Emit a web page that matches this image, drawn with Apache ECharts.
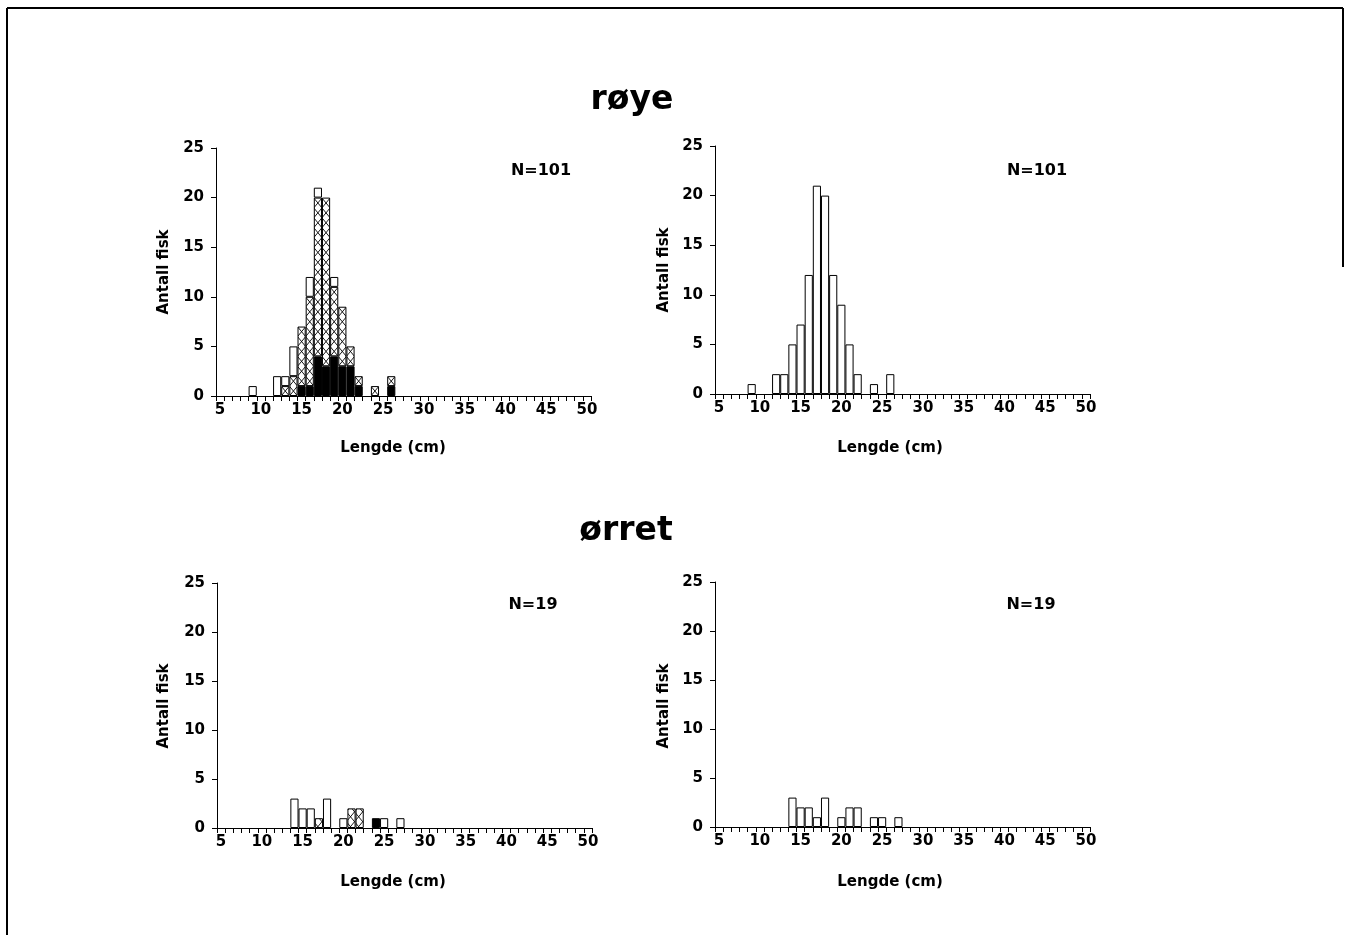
<!DOCTYPE html>
<html><head><meta charset="utf-8">
<script src="https://cdn.jsdelivr.net/npm/echarts@6/dist/echarts.min.js"></script>
<style>html,body{margin:0;padding:0;background:#fff}#c{width:1346px;height:935px}</style>
</head><body><div id="c"></div>
<script>
// Length classes (cm)
const lengths = ['5','6','7','8','9','10','11','12','13','14','15','16','17','18','19','20','21','22','23','24','25','26','27','28','29','30','31','32','33','34','35','36','37','38','39','40','41','42','43','44','45','46','47','48','49','50'];
// røye (left panel, stacked: solid / cross-hatched / open)
const royeSolid   = [0,0,0,0,0, 0,0,0,0,0, 1,1,4,3,4, 3,3,1,0,0, 0,1,0,0,0, 0,0,0,0,0, 0,0,0,0,0, 0,0,0,0,0, 0,0,0,0,0, 0];
const royeHatched = [0,0,0,0,0, 0,0,0,1,2, 6,9,16,17,7, 6,2,1,0,1, 0,1,0,0,0, 0,0,0,0,0, 0,0,0,0,0, 0,0,0,0,0, 0,0,0,0,0, 0];
const royeOpen    = [0,0,0,0,1, 0,0,2,1,3, 0,2,1,0,1, 0,0,0,0,0, 0,0,0,0,0, 0,0,0,0,0, 0,0,0,0,0, 0,0,0,0,0, 0,0,0,0,0, 0];
// røye (right panel, totals)
const royeTotal   = [0,0,0,0,1, 0,0,2,2,5, 7,12,21,20,12, 9,5,2,0,1, 0,2,0,0,0, 0,0,0,0,0, 0,0,0,0,0, 0,0,0,0,0, 0,0,0,0,0, 0];
// ørret (left panel)
const orretSolid   = [0,0,0,0,0, 0,0,0,0,0, 0,0,0,0,0, 0,0,0,0,1, 0,0,0,0,0, 0,0,0,0,0, 0,0,0,0,0, 0,0,0,0,0, 0,0,0,0,0, 0];
const orretHatched = [0,0,0,0,0, 0,0,0,0,0, 0,0,1,0,0, 0,2,2,0,0, 0,0,0,0,0, 0,0,0,0,0, 0,0,0,0,0, 0,0,0,0,0, 0,0,0,0,0, 0];
const orretOpen    = [0,0,0,0,0, 0,0,0,0,3, 2,2,0,3,0, 1,0,0,0,0, 1,0,1,0,0, 0,0,0,0,0, 0,0,0,0,0, 0,0,0,0,0, 0,0,0,0,0, 0];
// ørret (right panel, totals)
const orretTotal   = [0,0,0,0,0, 0,0,0,0,3, 2,2,1,3,0, 1,2,2,0,1, 1,0,1,0,0, 0,0,0,0,0, 0,0,0,0,0, 0,0,0,0,0, 0,0,0,0,0, 0];

const speciesTitles = ['røye','ørret'];
const nLabels = ['N=101','N=19'];
const xName = 'Lengde (cm)';
const yName = 'Antall fisk';
const yMin = 0, yMax = 25, yStep = 5;

const FONT = '"DejaVu Sans", "Liberation Sans", sans-serif';

function makeHatch(){
  const W = 163, H = 99, cw = W/20, ch = H/10, ox = 4.1;
  const c = document.createElement('canvas'); c.width = W; c.height = H;
  const g = c.getContext('2d');
  g.fillStyle = '#fff'; g.fillRect(0,0,W,H);
  g.strokeStyle = '#000'; g.lineWidth = 0.9;
  g.beginPath();
  for (let j = -1; j <= 20; j++) {
    for (let i = 0; i < 10; i++) {
      const x0 = ox + j*cw, y0 = i*ch;
      g.moveTo(x0, y0); g.lineTo(x0+cw, y0+ch);
      g.moveTo(x0+cw, y0); g.lineTo(x0, y0+ch);
    }
  }
  g.stroke();
  return c;
}
const hatchFill = { image: makeHatch(), repeat: 'repeat' };

const nz = arr => arr.map(v => v === 0 ? '-' : v);

const grids = [
  {left:216, top:148, width:375, height:248},
  {left:715, top:146, width:375, height:248},
  {left:217, top:583, width:375, height:245},
  {left:715, top:582, width:375, height:245}
];

const xAxes = grids.map((g,i) => ({
  type:'category', gridIndex:i, data:lengths, boundaryGap:true,
  axisLine:{show:true, lineStyle:{color:'#000', width:1}},
  axisTick:{show:true, interval:0, length:5, lineStyle:{color:'#000'}},
  axisLabel:{interval:4, color:'#000', fontFamily:FONT, fontWeight:'bold', fontSize:15, margin:7},
  splitLine:{show:false}
}));
const yAxes = grids.map((g,i) => ({
  type:'value', gridIndex:i, min:yMin, max:yMax, interval:yStep,
  axisLine:{show:true, lineStyle:{color:'#000', width:1}},
  axisTick:{show:true, length:5, lineStyle:{color:'#000'}},
  axisLabel:{color:'#000', fontFamily:FONT, fontWeight:'bold', fontSize:15, margin:12},
  splitLine:{show:false}
}));

const border = {borderColor:'#000', borderWidth:1};
const BW = 375/46;
function bar(idx, data, color, stack){
  return {type:'bar', xAxisIndex:idx, yAxisIndex:idx, data:nz(data), stack:stack,
    barWidth:BW, barCategoryGap:'0%', barGap:'0%', animation:false,
    itemStyle:Object.assign({color:color}, border), silent:true};
}

const series = [
  bar(0, royeSolid, '#000', 'a'),
  bar(0, royeHatched, hatchFill, 'a'),
  bar(0, royeOpen, '#fff', 'a'),
  bar(1, royeTotal, '#fff', 'b'),
  bar(2, orretSolid, '#000', 'c'),
  bar(2, orretHatched, hatchFill, 'c'),
  bar(2, orretOpen, '#fff', 'c'),
  bar(3, orretTotal, '#fff', 'd')
];

function txt(x, y, text, size, rot){
  return {type:'text', x:x, y:y, rotation:rot||0, silent:true,
    style:{text:text, fill:'#000', font:'bold '+size+'px '+FONT, align:'center', verticalAlign:'middle'}};
}

const graphic = [
  // frame
  {type:'line', shape:{x1:7,y1:8,x2:7,y2:935}, style:{stroke:'#000', lineWidth:2}},
  {type:'line', shape:{x1:7,y1:8,x2:1343,y2:8}, style:{stroke:'#000', lineWidth:2}},
  {type:'line', shape:{x1:1343,y1:8,x2:1343,y2:267}, style:{stroke:'#000', lineWidth:2}},
  txt(632, 100, speciesTitles[0], 33),
  txt(626, 531, speciesTitles[1], 33),
  txt(541, 171, nLabels[0], 16),
  txt(1037, 171, nLabels[0], 16),
  txt(533, 605, nLabels[1], 16),
  txt(1031, 605, nLabels[1], 16),
  txt(393, 448, xName, 15),
  txt(890, 448, xName, 15),
  txt(393, 882, xName, 15),
  txt(890, 882, xName, 15),
  txt(164, 272, yName, 15, Math.PI/2),
  txt(664, 270, yName, 15, Math.PI/2),
  txt(164, 706, yName, 15, Math.PI/2),
  txt(664, 706, yName, 15, Math.PI/2)
];

const chart = echarts.init(document.getElementById('c'), null, {renderer:'canvas'});
chart.setOption({
  backgroundColor:'#fff', animation:false,
  grid:grids, xAxis:xAxes, yAxis:yAxes, series:series, graphic:graphic
});
</script>
</body></html>
